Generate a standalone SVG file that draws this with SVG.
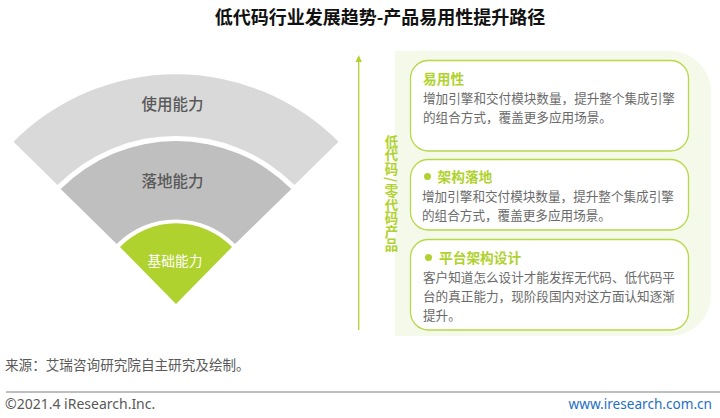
<svg xmlns="http://www.w3.org/2000/svg" width="720" height="418" viewBox="0 0 720 418">
<style>
text{font-family:"Noto Sans","Noto Sans CJK SC",sans-serif}
.c{font-family:"Noto Sans CJK SC",sans-serif}
.t{font-size:18px;font-weight:700;fill:#111;text-anchor:middle}
.f{font-size:15.5px;font-weight:500;fill:#595959;text-anchor:middle}
.h{font-size:13.7px;font-weight:700;fill:#b0d22e}
.b{font-size:12.6px;fill:#6a6a6a}
.v{font-size:13.4px;font-weight:700;fill:#b0d22e;text-anchor:middle}
.card{fill:#fff;stroke:#b7d84a;stroke-width:1.3}
.dot{fill:#b0d22e}
</style>
<rect width="720" height="418" fill="#fff"/>
<text class="c t" x="380" y="24">低代码行业发展趋势-产品易用性提升路径</text>
<g id="fan-outer"><path d="M13.5,141.7 A229.5,229.5 0 0 1 338.5,141.7 L294.5,185 A167.5,167.5 0 0 0 57.5,185Z" fill="#d9d9d9"/><text class="c f" x="172.5" y="110">使用能力</text></g>
<g id="fan-middle"><path d="M60.7,189 A162.5,162.5 0 0 1 291.3,189 L235,244 A83.5,83.5 0 0 0 116.7,244Z" fill="#bfbfbf"/><text class="c f" x="172.5" y="186.5">落地能力</text></g>
<g id="fan-core"><path d="M120,247 A78,78 0 0 1 232,247 L176,304Z" fill="#b0d22e"/><text class="c" x="175" y="266" font-size="13.7" fill="#fff" text-anchor="middle">基础能力</text></g>
<g id="panel"><path d="M395,51 H670 A41,41 0 0 1 711,92 V295 A41,41 0 0 1 670,336 H395Z" fill="#f5f9e9"/></g>
<g id="connectors"><path d="M358.7,330 V58" stroke="#b0d22e" stroke-width="1.3" fill="none"/><path d="M355.6,62 L358.7,55 L361.8,62Z" fill="#b0d22e"/></g>
<g id="axis-label"><text class="c v" x="391.5 391.5 391.5 389 391.5 391.5 391.5 391.5 391.5" y="147 160.4 173.8 177 196 209.6 223 236.6 250" rotate="0 0 0 90 0 0 0 0 0">低代码/零代码产品</text></g>
<g id="card-1"><rect class="card" x="410.5" y="60.5" width="278" height="90.5" rx="18"/><text class="c h" x="423" y="84">易用性</text><text class="c b" x="423" y="103">增加引擎和交付模块数量，提升整个集成引擎</text><text class="c b" x="423" y="122">的组合方式，覆盖更多应用场景。</text></g>
<g id="card-2"><rect class="card" x="410.5" y="159.5" width="278" height="70.5" rx="18"/><circle class="dot" cx="427.5" cy="176.5" r="3.5"/><text class="c h" x="437.5" y="182">架构落地</text><text class="c b" x="422" y="200.5">增加引擎和交付模块数量，提升整个集成引擎</text><text class="c b" x="422" y="219.5">的组合方式，覆盖更多应用场景。</text></g>
<g id="card-3"><rect class="card" x="410.5" y="239.5" width="278" height="90.5" rx="18"/><circle class="dot" cx="428.5" cy="257.5" r="3.5"/><text class="c h" x="439" y="263">平台架构设计</text><text class="c b" x="423" y="282">客户知道怎么设计才能发挥无代码、低代码平</text><text class="c b" x="423" y="301">台的真正能力，现阶段国内对这方面认知逐渐</text><text class="c b" x="423" y="320">提升。</text></g>
<text class="c" x="5" y="370" font-size="13.6" fill="#595959">来源：艾瑞咨询研究院自主研究及绘制。</text>
<path d="M6,392 H720" stroke="#7f7f7f" stroke-width="1"/>
<text x="5" y="409" font-size="14" fill="#595959">©2021.4 iResearch.Inc.</text>
<text x="712" y="409" font-size="13.6" fill="#1f6fc4" text-anchor="end">www.iresearch.com.cn</text>
</svg>
